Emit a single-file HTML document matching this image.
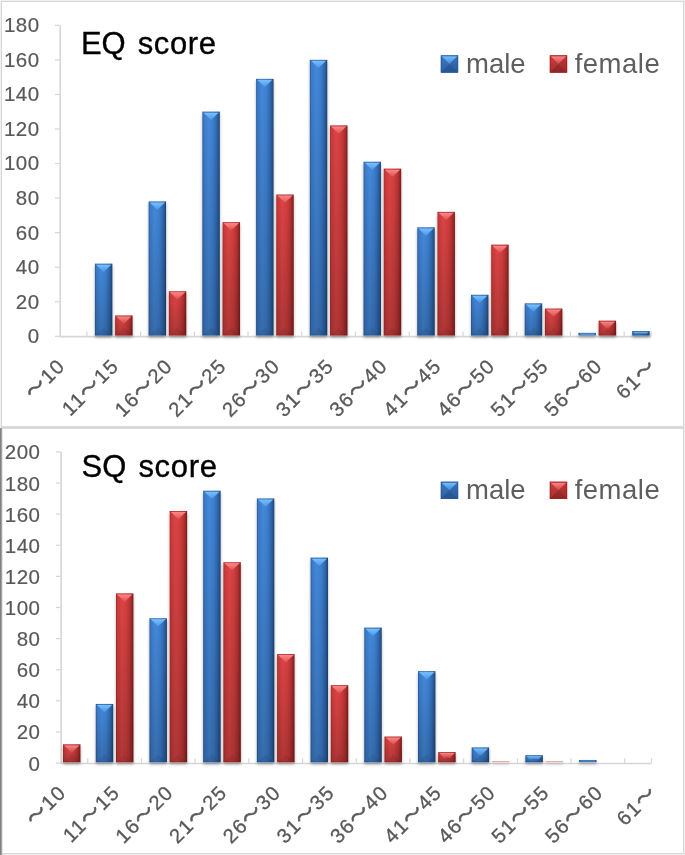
<!DOCTYPE html>
<html lang="ja"><head><meta charset="utf-8"><title>EQ score / SQ score</title>
<style>
html,body{margin:0;padding:0;background:#fff;}
body{width:685px;height:855px;overflow:hidden;font-family:"Liberation Sans","Noto Sans CJK JP",sans-serif;}
svg{display:block}
.num{font-family:"Liberation Sans","Noto Sans CJK JP",sans-serif;font-size:20.5px;fill:#595959;text-anchor:end;letter-spacing:0.5px;stroke:#595959;stroke-width:0.2px}
.cat{font-family:"Liberation Sans","Noto Sans CJK JP",sans-serif;font-size:20.2px;fill:#595959;text-anchor:end;letter-spacing:1.4px;stroke:#595959;stroke-width:0.3px}
.wd{stroke-width:0.6px}
.ttl{font-family:"Liberation Sans","Noto Sans CJK JP",sans-serif;font-size:31px;fill:#000;stroke:#000;stroke-width:0.35px}
.leg{font-family:"Liberation Sans","Noto Sans CJK JP",sans-serif;font-size:27.5px;fill:#5e5e5e}
</style></head><body>
<svg width="685" height="855" viewBox="0 0 685 855">
<defs>
<linearGradient id="gb" x1="0" y1="0" x2="1" y2="0">
<stop offset="0" stop-color="#2a5c9f"/><stop offset="0.09" stop-color="#3b7ac8"/><stop offset="0.35" stop-color="#4489db"/><stop offset="0.6" stop-color="#3e80d0"/><stop offset="0.8" stop-color="#316bb5"/><stop offset="0.93" stop-color="#27568f"/><stop offset="1" stop-color="#1c3f70"/>
</linearGradient>
<linearGradient id="gr" x1="0" y1="0" x2="1" y2="0">
<stop offset="0" stop-color="#a82a2a"/><stop offset="0.09" stop-color="#cc3a3a"/><stop offset="0.35" stop-color="#dc4545"/><stop offset="0.6" stop-color="#d23e3e"/><stop offset="0.8" stop-color="#b83333"/><stop offset="0.93" stop-color="#962626"/><stop offset="1" stop-color="#741a1a"/>
</linearGradient>
<linearGradient id="tb" x1="0" y1="0" x2="0" y2="1">
<stop offset="0" stop-color="#78c2ff"/><stop offset="1" stop-color="#4d98e8"/>
</linearGradient>
<linearGradient id="tr" x1="0" y1="0" x2="0" y2="1">
<stop offset="0" stop-color="#ff8888"/><stop offset="1" stop-color="#e45252"/>
</linearGradient>
<linearGradient id="sh" x1="0" y1="0" x2="0" y2="1">
<stop offset="0" stop-color="#000" stop-opacity="0"/><stop offset="1" stop-color="#000" stop-opacity="0.2"/>
</linearGradient>
<filter id="ds" x="-5%" y="-5%" width="110%" height="110%"><feGaussianBlur in="SourceAlpha" stdDeviation="1.4" result="b"/><feOffset in="b" dx="0.3" dy="1.7" result="o"/><feComponentTransfer in="o" result="s"><feFuncA type="linear" slope="0.34"/></feComponentTransfer><feMerge><feMergeNode in="s"/><feMergeNode in="SourceGraphic"/></feMerge></filter>
</defs>
<rect x="0" y="0" width="685" height="855" fill="#f0f0f0"/>
<rect x="1.5" y="1.5" width="682" height="852" fill="#fff" stroke="#d6d6d6" stroke-width="1"/>
<rect x="1" y="426.1" width="683" height="2.8" fill="#d8d8d8"/>
<rect x="0" y="428.2" width="2.4" height="427" fill="#c4c4c4"/><rect x="0" y="428.2" width="1.5" height="427" fill="#808080"/>

<g id="top">
<g stroke="#d6d6d6" stroke-width="1.6" fill="none">
<path d="M60.2 25.35V336.65000000000003H651.0"/>
<path stroke-width="1.2" d="M55.0 336.3H60.0"/>
<path stroke-width="1.2" d="M55.0 301.75H60.0"/>
<path stroke-width="1.2" d="M55.0 267.2H60.0"/>
<path stroke-width="1.2" d="M55.0 232.65H60.0"/>
<path stroke-width="1.2" d="M55.0 198.1H60.0"/>
<path stroke-width="1.2" d="M55.0 163.55H60.0"/>
<path stroke-width="1.2" d="M55.0 129.0H60.0"/>
<path stroke-width="1.2" d="M55.0 94.45H60.0"/>
<path stroke-width="1.2" d="M55.0 59.9H60.0"/>
<path stroke-width="1.2" d="M55.0 25.35H60.0"/>
<path stroke-width="1.2" d="M86.86 336.3v-4.8"/>
<path stroke-width="1.2" d="M140.59 336.3v-4.8"/>
<path stroke-width="1.2" d="M194.32 336.3v-4.8"/>
<path stroke-width="1.2" d="M248.05 336.3v-4.8"/>
<path stroke-width="1.2" d="M301.77 336.3v-4.8"/>
<path stroke-width="1.2" d="M355.5 336.3v-4.8"/>
<path stroke-width="1.2" d="M409.23 336.3v-4.8"/>
<path stroke-width="1.2" d="M462.95 336.3v-4.8"/>
<path stroke-width="1.2" d="M516.68 336.3v-4.8"/>
<path stroke-width="1.2" d="M570.41 336.3v-4.8"/>
<path stroke-width="1.2" d="M624.14 336.3v-4.8"/>
<path stroke-width="1.2" d="M651.0 336.3v-4.8"/>
</g>
<text class="num" x="39.6" y="343.2">0</text>
<text class="num" x="39.6" y="308.65">20</text>
<text class="num" x="39.6" y="274.1">40</text>
<text class="num" x="39.6" y="239.55">60</text>
<text class="num" x="39.6" y="205.0">80</text>
<text class="num" x="39.6" y="170.45">100</text>
<text class="num" x="39.6" y="135.9">120</text>
<text class="num" x="39.6" y="101.35">140</text>
<text class="num" x="39.6" y="66.8">160</text>
<text class="num" x="39.6" y="32.25">180</text>
<g filter="url(#ds)">
<rect x="94.93" y="263.75" width="17.4" height="71.66" fill="url(#gb)"/><polygon points="95.83000000000001,264.45 111.43,264.45 103.63,271.95" fill="url(#tb)"/><polygon points="96.13000000000001,334.81 111.13,334.81 103.63,327.61" fill="#000" opacity="0.07"/><rect x="94.93" y="263.75" width="17.4" height="71.66" fill="url(#sh)"/><rect x="94.93" y="263.75" width="17.4" height="0.8" fill="#24528f" opacity="0.6"/><rect x="94.93" y="334.61" width="17.4" height="0.8" fill="#24528f" opacity="0.5"/>
<rect x="115.13" y="315.57" width="17.4" height="19.83" fill="url(#gr)"/><polygon points="116.03,316.27 131.63,316.27 123.83,323.77" fill="url(#tr)"/><polygon points="116.33,334.79999999999995 131.33,334.79999999999995 123.83,327.6" fill="#000" opacity="0.07"/><rect x="115.13" y="315.57" width="17.4" height="19.83" fill="url(#sh)"/><rect x="115.13" y="315.57" width="17.4" height="0.8" fill="#962424" opacity="0.6"/><rect x="115.13" y="334.6" width="17.4" height="0.8" fill="#962424" opacity="0.5"/>
<rect x="148.65" y="201.56" width="17.4" height="133.85" fill="url(#gb)"/><polygon points="149.55,202.26 165.15,202.26 157.35,209.76" fill="url(#tb)"/><polygon points="149.85,334.81 164.85,334.81 157.35,327.61" fill="#000" opacity="0.07"/><rect x="148.65" y="201.56" width="17.4" height="133.85" fill="url(#sh)"/><rect x="148.65" y="201.56" width="17.4" height="0.8" fill="#24528f" opacity="0.6"/><rect x="148.65" y="334.61" width="17.4" height="0.8" fill="#24528f" opacity="0.5"/>
<rect x="168.85" y="291.38" width="17.4" height="44.02" fill="url(#gr)"/><polygon points="169.75,292.08 185.35,292.08 177.55,299.58" fill="url(#tr)"/><polygon points="170.04999999999998,334.79999999999995 185.05,334.79999999999995 177.55,327.6" fill="#000" opacity="0.07"/><rect x="168.85" y="291.38" width="17.4" height="44.02" fill="url(#sh)"/><rect x="168.85" y="291.38" width="17.4" height="0.8" fill="#962424" opacity="0.6"/><rect x="168.85" y="334.6" width="17.4" height="0.8" fill="#962424" opacity="0.5"/>
<rect x="202.38" y="111.72" width="17.4" height="223.68" fill="url(#gb)"/><polygon points="203.28,112.42 218.88,112.42 211.08,119.92" fill="url(#tb)"/><polygon points="203.57999999999998,334.79999999999995 218.58,334.79999999999995 211.08,327.6" fill="#000" opacity="0.07"/><rect x="202.38" y="111.72" width="17.4" height="223.68" fill="url(#sh)"/><rect x="202.38" y="111.72" width="17.4" height="0.8" fill="#24528f" opacity="0.6"/><rect x="202.38" y="334.6" width="17.4" height="0.8" fill="#24528f" opacity="0.5"/>
<rect x="222.58" y="222.29" width="17.4" height="113.12" fill="url(#gr)"/><polygon points="223.48000000000002,222.98999999999998 239.08,222.98999999999998 231.28,230.49" fill="url(#tr)"/><polygon points="223.78,334.81 238.78,334.81 231.28,327.61" fill="#000" opacity="0.07"/><rect x="222.58" y="222.29" width="17.4" height="113.12" fill="url(#sh)"/><rect x="222.58" y="222.29" width="17.4" height="0.8" fill="#962424" opacity="0.6"/><rect x="222.58" y="334.61" width="17.4" height="0.8" fill="#962424" opacity="0.5"/>
<rect x="256.11" y="78.9" width="17.4" height="256.5" fill="url(#gb)"/><polygon points="257.01,79.60000000000001 272.61,79.60000000000001 264.81,87.1" fill="url(#tb)"/><polygon points="257.31,334.79999999999995 272.31,334.79999999999995 264.81,327.6" fill="#000" opacity="0.07"/><rect x="256.11" y="78.9" width="17.4" height="256.5" fill="url(#sh)"/><rect x="256.11" y="78.9" width="17.4" height="0.8" fill="#24528f" opacity="0.6"/><rect x="256.11" y="334.6" width="17.4" height="0.8" fill="#24528f" opacity="0.5"/>
<rect x="276.31" y="194.65" width="17.4" height="140.76" fill="url(#gr)"/><polygon points="277.21,195.35 292.81,195.35 285.01,202.85" fill="url(#tr)"/><polygon points="277.51,334.81 292.51,334.81 285.01,327.61" fill="#000" opacity="0.07"/><rect x="276.31" y="194.65" width="17.4" height="140.76" fill="url(#sh)"/><rect x="276.31" y="194.65" width="17.4" height="0.8" fill="#962424" opacity="0.6"/><rect x="276.31" y="334.61" width="17.4" height="0.8" fill="#962424" opacity="0.5"/>
<rect x="309.84" y="59.9" width="17.4" height="275.5" fill="url(#gb)"/><polygon points="310.73999999999995,60.6 326.34,60.6 318.54,68.1" fill="url(#tb)"/><polygon points="311.03999999999996,334.79999999999995 326.04,334.79999999999995 318.54,327.6" fill="#000" opacity="0.07"/><rect x="309.84" y="59.9" width="17.4" height="275.5" fill="url(#sh)"/><rect x="309.84" y="59.9" width="17.4" height="0.8" fill="#24528f" opacity="0.6"/><rect x="309.84" y="334.6" width="17.4" height="0.8" fill="#24528f" opacity="0.5"/>
<rect x="330.04" y="125.55" width="17.4" height="209.86" fill="url(#gr)"/><polygon points="330.94,126.25 346.54,126.25 338.74,133.75" fill="url(#tr)"/><polygon points="331.24,334.81 346.24,334.81 338.74,327.61" fill="#000" opacity="0.07"/><rect x="330.04" y="125.55" width="17.4" height="209.86" fill="url(#sh)"/><rect x="330.04" y="125.55" width="17.4" height="0.8" fill="#962424" opacity="0.6"/><rect x="330.04" y="334.61" width="17.4" height="0.8" fill="#962424" opacity="0.5"/>
<rect x="363.56" y="161.82" width="17.4" height="173.58" fill="url(#gb)"/><polygon points="364.46,162.51999999999998 380.06,162.51999999999998 372.26,170.02" fill="url(#tb)"/><polygon points="364.76,334.79999999999995 379.76,334.79999999999995 372.26,327.6" fill="#000" opacity="0.07"/><rect x="363.56" y="161.82" width="17.4" height="173.58" fill="url(#sh)"/><rect x="363.56" y="161.82" width="17.4" height="0.8" fill="#24528f" opacity="0.6"/><rect x="363.56" y="334.6" width="17.4" height="0.8" fill="#24528f" opacity="0.5"/>
<rect x="383.76" y="168.73" width="17.4" height="166.67" fill="url(#gr)"/><polygon points="384.65999999999997,169.42999999999998 400.26,169.42999999999998 392.46,176.93" fill="url(#tr)"/><polygon points="384.96,334.79999999999995 399.96,334.79999999999995 392.46,327.6" fill="#000" opacity="0.07"/><rect x="383.76" y="168.73" width="17.4" height="166.67" fill="url(#sh)"/><rect x="383.76" y="168.73" width="17.4" height="0.8" fill="#962424" opacity="0.6"/><rect x="383.76" y="334.6" width="17.4" height="0.8" fill="#962424" opacity="0.5"/>
<rect x="417.29" y="227.47" width="17.4" height="107.93" fill="url(#gb)"/><polygon points="418.19,228.17 433.79,228.17 425.99,235.67" fill="url(#tb)"/><polygon points="418.49,334.79999999999995 433.49,334.79999999999995 425.99,327.6" fill="#000" opacity="0.07"/><rect x="417.29" y="227.47" width="17.4" height="107.93" fill="url(#sh)"/><rect x="417.29" y="227.47" width="17.4" height="0.8" fill="#24528f" opacity="0.6"/><rect x="417.29" y="334.6" width="17.4" height="0.8" fill="#24528f" opacity="0.5"/>
<rect x="437.49" y="211.92" width="17.4" height="123.48" fill="url(#gr)"/><polygon points="438.39,212.61999999999998 453.99,212.61999999999998 446.19,220.12" fill="url(#tr)"/><polygon points="438.69,334.79999999999995 453.69,334.79999999999995 446.19,327.6" fill="#000" opacity="0.07"/><rect x="437.49" y="211.92" width="17.4" height="123.48" fill="url(#sh)"/><rect x="437.49" y="211.92" width="17.4" height="0.8" fill="#962424" opacity="0.6"/><rect x="437.49" y="334.6" width="17.4" height="0.8" fill="#962424" opacity="0.5"/>
<rect x="471.02" y="294.84" width="17.4" height="40.56" fill="url(#gb)"/><polygon points="471.91999999999996,295.53999999999996 487.52,295.53999999999996 479.72,303.04" fill="url(#tb)"/><polygon points="472.21999999999997,334.79999999999995 487.22,334.79999999999995 479.72,327.6" fill="#000" opacity="0.07"/><rect x="471.02" y="294.84" width="17.4" height="40.56" fill="url(#sh)"/><rect x="471.02" y="294.84" width="17.4" height="0.8" fill="#24528f" opacity="0.6"/><rect x="471.02" y="334.6" width="17.4" height="0.8" fill="#24528f" opacity="0.5"/>
<rect x="491.22" y="244.74" width="17.4" height="90.66" fill="url(#gr)"/><polygon points="492.12,245.44 507.72,245.44 499.92,252.94" fill="url(#tr)"/><polygon points="492.42,334.79999999999995 507.42,334.79999999999995 499.92,327.6" fill="#000" opacity="0.07"/><rect x="491.22" y="244.74" width="17.4" height="90.66" fill="url(#sh)"/><rect x="491.22" y="244.74" width="17.4" height="0.8" fill="#962424" opacity="0.6"/><rect x="491.22" y="334.6" width="17.4" height="0.8" fill="#962424" opacity="0.5"/>
<rect x="524.75" y="303.48" width="17.4" height="31.92" fill="url(#gb)"/><polygon points="525.65,304.18 541.25,304.18 533.45,311.68" fill="url(#tb)"/><polygon points="525.95,334.79999999999995 540.95,334.79999999999995 533.45,327.6" fill="#000" opacity="0.07"/><rect x="524.75" y="303.48" width="17.4" height="31.92" fill="url(#sh)"/><rect x="524.75" y="303.48" width="17.4" height="0.8" fill="#24528f" opacity="0.6"/><rect x="524.75" y="334.6" width="17.4" height="0.8" fill="#24528f" opacity="0.5"/>
<rect x="544.95" y="308.66" width="17.4" height="26.74" fill="url(#gr)"/><polygon points="545.85,309.36 561.45,309.36 553.65,316.86" fill="url(#tr)"/><polygon points="546.1500000000001,334.79999999999995 561.15,334.79999999999995 553.65,327.6" fill="#000" opacity="0.07"/><rect x="544.95" y="308.66" width="17.4" height="26.74" fill="url(#sh)"/><rect x="544.95" y="308.66" width="17.4" height="0.8" fill="#962424" opacity="0.6"/><rect x="544.95" y="334.6" width="17.4" height="0.8" fill="#962424" opacity="0.5"/>
<rect x="578.47" y="332.85" width="17.4" height="2.56" fill="#24528f"/><rect x="579.6700000000001" y="333.35" width="14.999999999999998" height="1.46" fill="#56a2ee"/>
<rect x="598.67" y="320.75" width="17.4" height="14.65" fill="url(#gr)"/><polygon points="599.5699999999999,321.45 615.17,321.45 607.95,328.67 606.79,328.67" fill="url(#tr)"/><polygon points="599.87,334.79999999999995 614.87,334.79999999999995 607.37,327.88" fill="#000" opacity="0.07"/><rect x="598.67" y="320.75" width="17.4" height="14.65" fill="url(#sh)"/><rect x="598.67" y="320.75" width="17.4" height="0.8" fill="#962424" opacity="0.6"/><rect x="598.67" y="334.6" width="17.4" height="0.8" fill="#962424" opacity="0.5"/>
<rect x="632.2" y="331.12" width="17.4" height="4.28" fill="url(#gb)"/><polygon points="633.1,331.82 648.7,331.82 646.66,333.86 635.14,333.86" fill="url(#tb)"/><polygon points="633.4000000000001,334.79999999999995 648.4,334.79999999999995 640.9,333.06" fill="#000" opacity="0.07"/><rect x="632.2" y="331.12" width="17.4" height="4.28" fill="url(#sh)"/><rect x="632.2" y="331.12" width="17.4" height="0.8" fill="#24528f" opacity="0.6"/><rect x="632.2" y="334.6" width="17.4" height="0.8" fill="#24528f" opacity="0.5"/>
</g>
<text class="cat" transform="translate(66.5 367.0) rotate(-45)"><tspan class="wd">～</tspan>10</text>
<text class="cat" transform="translate(120.23 367.0) rotate(-45)">11<tspan class="wd">～</tspan>15</text>
<text class="cat" transform="translate(173.95 367.0) rotate(-45)">16<tspan class="wd">～</tspan>20</text>
<text class="cat" transform="translate(227.68 367.0) rotate(-45)">21<tspan class="wd">～</tspan>25</text>
<text class="cat" transform="translate(281.41 367.0) rotate(-45)">26<tspan class="wd">～</tspan>30</text>
<text class="cat" transform="translate(335.14 367.0) rotate(-45)">31<tspan class="wd">～</tspan>35</text>
<text class="cat" transform="translate(388.86 367.0) rotate(-45)">36<tspan class="wd">～</tspan>40</text>
<text class="cat" transform="translate(442.59 367.0) rotate(-45)">41<tspan class="wd">～</tspan>45</text>
<text class="cat" transform="translate(496.32 367.0) rotate(-45)">46<tspan class="wd">～</tspan>50</text>
<text class="cat" transform="translate(550.05 367.0) rotate(-45)">51<tspan class="wd">～</tspan>55</text>
<text class="cat" transform="translate(603.77 367.0) rotate(-45)">56<tspan class="wd">～</tspan>60</text>
<text class="cat" transform="translate(657.5 367.0) rotate(-45)">61<tspan class="wd">～</tspan></text>
<text class="ttl" x="80.9" y="54.2" word-spacing="3.4">EQ <tspan letter-spacing="0.6">score</tspan></text>
<g><rect x="440.8" y="55.3" width="17.3" height="17.3" fill="#3a79c8"/><polygon points="458.1,55.3 449.45,63.949999999999996 458.1,72.6" fill="#3572be"/><polygon points="440.8,72.6 458.1,72.6 449.45,63.949999999999996" fill="#2f68b0"/><polygon points="441.5,56.0 457.40000000000003,56.0 449.45,63.949999999999996" fill="url(#tb)"/><rect x="440.8" y="55.3" width="17.3" height="17.3" fill="url(#sh)"/><rect x="441.3" y="55.8" width="16.3" height="16.3" fill="none" stroke="#2a5a9a" stroke-width="1" opacity="0.85"/><rect x="441.3" y="70.8" width="16.3" height="1.3" fill="#2a5a9a" opacity="0.5"/></g>
<text class="leg" x="466" y="72.7">male</text>
<g><rect x="549.8" y="55.3" width="17.3" height="17.3" fill="#cf3b3b"/><polygon points="567.0999999999999,55.3 558.4499999999999,63.949999999999996 567.0999999999999,72.6" fill="#c43636"/><polygon points="549.8,72.6 567.0999999999999,72.6 558.4499999999999,63.949999999999996" fill="#b03030"/><polygon points="550.5,56.0 566.3999999999999,56.0 558.4499999999999,63.949999999999996" fill="url(#tr)"/><rect x="549.8" y="55.3" width="17.3" height="17.3" fill="url(#sh)"/><rect x="550.3" y="55.8" width="16.3" height="16.3" fill="none" stroke="#9c2626" stroke-width="1" opacity="0.85"/><rect x="550.3" y="70.8" width="16.3" height="1.3" fill="#9c2626" opacity="0.5"/></g>
<text class="leg" x="574.7" y="72.7" letter-spacing="0.5">female</text>
</g>
<g id="bot">
<g stroke="#d6d6d6" stroke-width="1.6" fill="none">
<path d="M61.1 451.9V763.45H651.6"/>
<path stroke-width="1.2" d="M55.9 763.1H60.9"/>
<path stroke-width="1.2" d="M55.9 731.98H60.9"/>
<path stroke-width="1.2" d="M55.9 700.86H60.9"/>
<path stroke-width="1.2" d="M55.9 669.74H60.9"/>
<path stroke-width="1.2" d="M55.9 638.62H60.9"/>
<path stroke-width="1.2" d="M55.9 607.5H60.9"/>
<path stroke-width="1.2" d="M55.9 576.38H60.9"/>
<path stroke-width="1.2" d="M55.9 545.26H60.9"/>
<path stroke-width="1.2" d="M55.9 514.14H60.9"/>
<path stroke-width="1.2" d="M55.9 483.02H60.9"/>
<path stroke-width="1.2" d="M55.9 451.9H60.9"/>
<path stroke-width="1.2" d="M87.75 763.1v-4.8"/>
<path stroke-width="1.2" d="M141.45 763.1v-4.8"/>
<path stroke-width="1.2" d="M195.15 763.1v-4.8"/>
<path stroke-width="1.2" d="M248.85 763.1v-4.8"/>
<path stroke-width="1.2" d="M302.55 763.1v-4.8"/>
<path stroke-width="1.2" d="M356.25 763.1v-4.8"/>
<path stroke-width="1.2" d="M409.95 763.1v-4.8"/>
<path stroke-width="1.2" d="M463.65 763.1v-4.8"/>
<path stroke-width="1.2" d="M517.35 763.1v-4.8"/>
<path stroke-width="1.2" d="M571.05 763.1v-4.8"/>
<path stroke-width="1.2" d="M624.75 763.1v-4.8"/>
<path stroke-width="1.2" d="M651.6 763.1v-4.8"/>
</g>
<text class="num" x="40.5" y="770.6">0</text>
<text class="num" x="40.5" y="739.48">20</text>
<text class="num" x="40.5" y="708.36">40</text>
<text class="num" x="40.5" y="677.24">60</text>
<text class="num" x="40.5" y="646.12">80</text>
<text class="num" x="40.5" y="615.0">100</text>
<text class="num" x="40.5" y="583.88">120</text>
<text class="num" x="40.5" y="552.76">140</text>
<text class="num" x="40.5" y="521.64">160</text>
<text class="num" x="40.5" y="490.52">180</text>
<text class="num" x="40.5" y="459.4">200</text>
<g filter="url(#ds)">
<rect x="63.0" y="744.43" width="17.4" height="17.77" fill="url(#gr)"/><polygon points="63.9,745.13 79.5,745.13 71.7,752.63" fill="url(#tr)"/><polygon points="64.2,761.6 79.2,761.6 71.7,754.4" fill="#000" opacity="0.07"/><rect x="63.0" y="744.43" width="17.4" height="17.77" fill="url(#sh)"/><rect x="63.0" y="744.43" width="17.4" height="0.8" fill="#962424" opacity="0.6"/><rect x="63.0" y="761.4" width="17.4" height="0.8" fill="#962424" opacity="0.5"/>
<rect x="95.8" y="703.97" width="17.4" height="58.23" fill="url(#gb)"/><polygon points="96.7,704.6700000000001 112.3,704.6700000000001 104.5,712.17" fill="url(#tb)"/><polygon points="97.0,761.6 112.0,761.6 104.5,754.4" fill="#000" opacity="0.07"/><rect x="95.8" y="703.97" width="17.4" height="58.23" fill="url(#sh)"/><rect x="95.8" y="703.97" width="17.4" height="0.8" fill="#24528f" opacity="0.6"/><rect x="95.8" y="761.4" width="17.4" height="0.8" fill="#24528f" opacity="0.5"/>
<rect x="116.0" y="593.5" width="17.4" height="168.7" fill="url(#gr)"/><polygon points="116.9,594.2 132.5,594.2 124.7,601.7" fill="url(#tr)"/><polygon points="117.2,761.6 132.2,761.6 124.7,754.4" fill="#000" opacity="0.07"/><rect x="116.0" y="593.5" width="17.4" height="168.7" fill="url(#sh)"/><rect x="116.0" y="593.5" width="17.4" height="0.8" fill="#962424" opacity="0.6"/><rect x="116.0" y="761.4" width="17.4" height="0.8" fill="#962424" opacity="0.5"/>
<rect x="149.5" y="618.39" width="17.4" height="143.81" fill="url(#gb)"/><polygon points="150.4,619.09 166.0,619.09 158.2,626.59" fill="url(#tb)"/><polygon points="150.7,761.6 165.7,761.6 158.2,754.4" fill="#000" opacity="0.07"/><rect x="149.5" y="618.39" width="17.4" height="143.81" fill="url(#sh)"/><rect x="149.5" y="618.39" width="17.4" height="0.8" fill="#24528f" opacity="0.6"/><rect x="149.5" y="761.4" width="17.4" height="0.8" fill="#24528f" opacity="0.5"/>
<rect x="169.7" y="511.03" width="17.4" height="251.17" fill="url(#gr)"/><polygon points="170.6,511.72999999999996 186.2,511.72999999999996 178.4,519.23" fill="url(#tr)"/><polygon points="170.89999999999998,761.6 185.9,761.6 178.4,754.4" fill="#000" opacity="0.07"/><rect x="169.7" y="511.03" width="17.4" height="251.17" fill="url(#sh)"/><rect x="169.7" y="511.03" width="17.4" height="0.8" fill="#962424" opacity="0.6"/><rect x="169.7" y="761.4" width="17.4" height="0.8" fill="#962424" opacity="0.5"/>
<rect x="203.2" y="490.8" width="17.4" height="271.4" fill="url(#gb)"/><polygon points="204.1,491.5 219.7,491.5 211.9,499.0" fill="url(#tb)"/><polygon points="204.39999999999998,761.6 219.4,761.6 211.9,754.4" fill="#000" opacity="0.07"/><rect x="203.2" y="490.8" width="17.4" height="271.4" fill="url(#sh)"/><rect x="203.2" y="490.8" width="17.4" height="0.8" fill="#24528f" opacity="0.6"/><rect x="203.2" y="761.4" width="17.4" height="0.8" fill="#24528f" opacity="0.5"/>
<rect x="223.4" y="562.38" width="17.4" height="199.82" fill="url(#gr)"/><polygon points="224.3,563.08 239.9,563.08 232.1,570.58" fill="url(#tr)"/><polygon points="224.6,761.6 239.6,761.6 232.1,754.4" fill="#000" opacity="0.07"/><rect x="223.4" y="562.38" width="17.4" height="199.82" fill="url(#sh)"/><rect x="223.4" y="562.38" width="17.4" height="0.8" fill="#962424" opacity="0.6"/><rect x="223.4" y="761.4" width="17.4" height="0.8" fill="#962424" opacity="0.5"/>
<rect x="256.9" y="498.58" width="17.4" height="263.62" fill="url(#gb)"/><polygon points="257.79999999999995,499.28 273.4,499.28 265.6,506.78" fill="url(#tb)"/><polygon points="258.09999999999997,761.6 273.1,761.6 265.6,754.4" fill="#000" opacity="0.07"/><rect x="256.9" y="498.58" width="17.4" height="263.62" fill="url(#sh)"/><rect x="256.9" y="498.58" width="17.4" height="0.8" fill="#24528f" opacity="0.6"/><rect x="256.9" y="761.4" width="17.4" height="0.8" fill="#24528f" opacity="0.5"/>
<rect x="277.1" y="654.18" width="17.4" height="108.02" fill="url(#gr)"/><polygon points="278.0,654.88 293.6,654.88 285.8,662.38" fill="url(#tr)"/><polygon points="278.3,761.6 293.3,761.6 285.8,754.4" fill="#000" opacity="0.07"/><rect x="277.1" y="654.18" width="17.4" height="108.02" fill="url(#sh)"/><rect x="277.1" y="654.18" width="17.4" height="0.8" fill="#962424" opacity="0.6"/><rect x="277.1" y="761.4" width="17.4" height="0.8" fill="#962424" opacity="0.5"/>
<rect x="310.6" y="557.71" width="17.4" height="204.49" fill="url(#gb)"/><polygon points="311.5,558.4100000000001 327.1,558.4100000000001 319.3,565.91" fill="url(#tb)"/><polygon points="311.8,761.6 326.8,761.6 319.3,754.4" fill="#000" opacity="0.07"/><rect x="310.6" y="557.71" width="17.4" height="204.49" fill="url(#sh)"/><rect x="310.6" y="557.71" width="17.4" height="0.8" fill="#24528f" opacity="0.6"/><rect x="310.6" y="761.4" width="17.4" height="0.8" fill="#24528f" opacity="0.5"/>
<rect x="330.8" y="685.3" width="17.4" height="76.9" fill="url(#gr)"/><polygon points="331.7,686.0 347.3,686.0 339.5,693.5" fill="url(#tr)"/><polygon points="332.0,761.6 347.0,761.6 339.5,754.4" fill="#000" opacity="0.07"/><rect x="330.8" y="685.3" width="17.4" height="76.9" fill="url(#sh)"/><rect x="330.8" y="685.3" width="17.4" height="0.8" fill="#962424" opacity="0.6"/><rect x="330.8" y="761.4" width="17.4" height="0.8" fill="#962424" opacity="0.5"/>
<rect x="364.3" y="627.73" width="17.4" height="134.47" fill="url(#gb)"/><polygon points="365.2,628.4300000000001 380.8,628.4300000000001 373.0,635.93" fill="url(#tb)"/><polygon points="365.5,761.6 380.5,761.6 373.0,754.4" fill="#000" opacity="0.07"/><rect x="364.3" y="627.73" width="17.4" height="134.47" fill="url(#sh)"/><rect x="364.3" y="627.73" width="17.4" height="0.8" fill="#24528f" opacity="0.6"/><rect x="364.3" y="761.4" width="17.4" height="0.8" fill="#24528f" opacity="0.5"/>
<rect x="384.5" y="736.65" width="17.4" height="25.55" fill="url(#gr)"/><polygon points="385.4,737.35 401.0,737.35 393.2,744.85" fill="url(#tr)"/><polygon points="385.7,761.6 400.7,761.6 393.2,754.4" fill="#000" opacity="0.07"/><rect x="384.5" y="736.65" width="17.4" height="25.55" fill="url(#sh)"/><rect x="384.5" y="736.65" width="17.4" height="0.8" fill="#962424" opacity="0.6"/><rect x="384.5" y="761.4" width="17.4" height="0.8" fill="#962424" opacity="0.5"/>
<rect x="418.0" y="671.3" width="17.4" height="90.9" fill="url(#gb)"/><polygon points="418.9,672.0 434.5,672.0 426.7,679.5" fill="url(#tb)"/><polygon points="419.2,761.6 434.2,761.6 426.7,754.4" fill="#000" opacity="0.07"/><rect x="418.0" y="671.3" width="17.4" height="90.9" fill="url(#sh)"/><rect x="418.0" y="671.3" width="17.4" height="0.8" fill="#24528f" opacity="0.6"/><rect x="418.0" y="761.4" width="17.4" height="0.8" fill="#24528f" opacity="0.5"/>
<rect x="438.2" y="752.21" width="17.4" height="9.99" fill="url(#gr)"/><polygon points="439.09999999999997,752.9100000000001 454.7,752.9100000000001 449.81,757.8 443.99,757.8" fill="url(#tr)"/><polygon points="439.4,761.6 454.4,761.6 446.9,757.01" fill="#000" opacity="0.07"/><rect x="438.2" y="752.21" width="17.4" height="9.99" fill="url(#sh)"/><rect x="438.2" y="752.21" width="17.4" height="0.8" fill="#962424" opacity="0.6"/><rect x="438.2" y="761.4" width="17.4" height="0.8" fill="#962424" opacity="0.5"/>
<rect x="471.7" y="747.54" width="17.4" height="14.66" fill="url(#gb)"/><polygon points="472.59999999999997,748.24 488.2,748.24 480.97,755.47 479.83,755.47" fill="url(#tb)"/><polygon points="472.9,761.6 487.9,761.6 480.4,754.67" fill="#000" opacity="0.07"/><rect x="471.7" y="747.54" width="17.4" height="14.66" fill="url(#sh)"/><rect x="471.7" y="747.54" width="17.4" height="0.8" fill="#24528f" opacity="0.6"/><rect x="471.7" y="761.4" width="17.4" height="0.8" fill="#24528f" opacity="0.5"/>
<rect x="491.9" y="761.2" width="17.4" height="1" fill="#ee9a9a"/>
<rect x="525.4" y="755.32" width="17.4" height="6.88" fill="url(#gb)"/><polygon points="526.3,756.0200000000001 541.9,756.0200000000001 538.56,759.36 529.64,759.36" fill="url(#tb)"/><polygon points="526.6,761.6 541.6,761.6 534.1,758.56" fill="#000" opacity="0.07"/><rect x="525.4" y="755.32" width="17.4" height="6.88" fill="url(#sh)"/><rect x="525.4" y="755.32" width="17.4" height="0.8" fill="#24528f" opacity="0.6"/><rect x="525.4" y="761.4" width="17.4" height="0.8" fill="#24528f" opacity="0.5"/>
<rect x="545.6" y="761.2" width="17.4" height="1" fill="#ee9a9a"/>
<rect x="579.1" y="759.99" width="17.4" height="2.21" fill="#24528f"/><rect x="580.3000000000001" y="760.49" width="14.999999999999998" height="1.11" fill="#56a2ee"/>
</g>
<text class="cat" transform="translate(67.4 793.5) rotate(-45)"><tspan class="wd">～</tspan>10</text>
<text class="cat" transform="translate(121.1 793.5) rotate(-45)">11<tspan class="wd">～</tspan>15</text>
<text class="cat" transform="translate(174.8 793.5) rotate(-45)">16<tspan class="wd">～</tspan>20</text>
<text class="cat" transform="translate(228.5 793.5) rotate(-45)">21<tspan class="wd">～</tspan>25</text>
<text class="cat" transform="translate(282.2 793.5) rotate(-45)">26<tspan class="wd">～</tspan>30</text>
<text class="cat" transform="translate(335.9 793.5) rotate(-45)">31<tspan class="wd">～</tspan>35</text>
<text class="cat" transform="translate(389.6 793.5) rotate(-45)">36<tspan class="wd">～</tspan>40</text>
<text class="cat" transform="translate(443.3 793.5) rotate(-45)">41<tspan class="wd">～</tspan>45</text>
<text class="cat" transform="translate(497.0 793.5) rotate(-45)">46<tspan class="wd">～</tspan>50</text>
<text class="cat" transform="translate(550.7 793.5) rotate(-45)">51<tspan class="wd">～</tspan>55</text>
<text class="cat" transform="translate(604.4 793.5) rotate(-45)">56<tspan class="wd">～</tspan>60</text>
<text class="cat" transform="translate(658.1 793.5) rotate(-45)">61<tspan class="wd">～</tspan></text>
<text class="ttl" x="81.6" y="477.4" word-spacing="3.4">SQ <tspan letter-spacing="0.7">score</tspan></text>
<g><rect x="440.8" y="481.7" width="17.3" height="17.3" fill="#3a79c8"/><polygon points="458.1,481.7 449.45,490.34999999999997 458.1,499.0" fill="#3572be"/><polygon points="440.8,499.0 458.1,499.0 449.45,490.34999999999997" fill="#2f68b0"/><polygon points="441.5,482.4 457.40000000000003,482.4 449.45,490.34999999999997" fill="url(#tb)"/><rect x="440.8" y="481.7" width="17.3" height="17.3" fill="url(#sh)"/><rect x="441.3" y="482.2" width="16.3" height="16.3" fill="none" stroke="#2a5a9a" stroke-width="1" opacity="0.85"/><rect x="441.3" y="497.2" width="16.3" height="1.3" fill="#2a5a9a" opacity="0.5"/></g>
<text class="leg" x="466" y="499.1">male</text>
<g><rect x="549.8" y="481.7" width="17.3" height="17.3" fill="#cf3b3b"/><polygon points="567.0999999999999,481.7 558.4499999999999,490.34999999999997 567.0999999999999,499.0" fill="#c43636"/><polygon points="549.8,499.0 567.0999999999999,499.0 558.4499999999999,490.34999999999997" fill="#b03030"/><polygon points="550.5,482.4 566.3999999999999,482.4 558.4499999999999,490.34999999999997" fill="url(#tr)"/><rect x="549.8" y="481.7" width="17.3" height="17.3" fill="url(#sh)"/><rect x="550.3" y="482.2" width="16.3" height="16.3" fill="none" stroke="#9c2626" stroke-width="1" opacity="0.85"/><rect x="550.3" y="497.2" width="16.3" height="1.3" fill="#9c2626" opacity="0.5"/></g>
<text class="leg" x="574.7" y="499.1" letter-spacing="0.5">female</text>
</g>
</svg></body></html>
